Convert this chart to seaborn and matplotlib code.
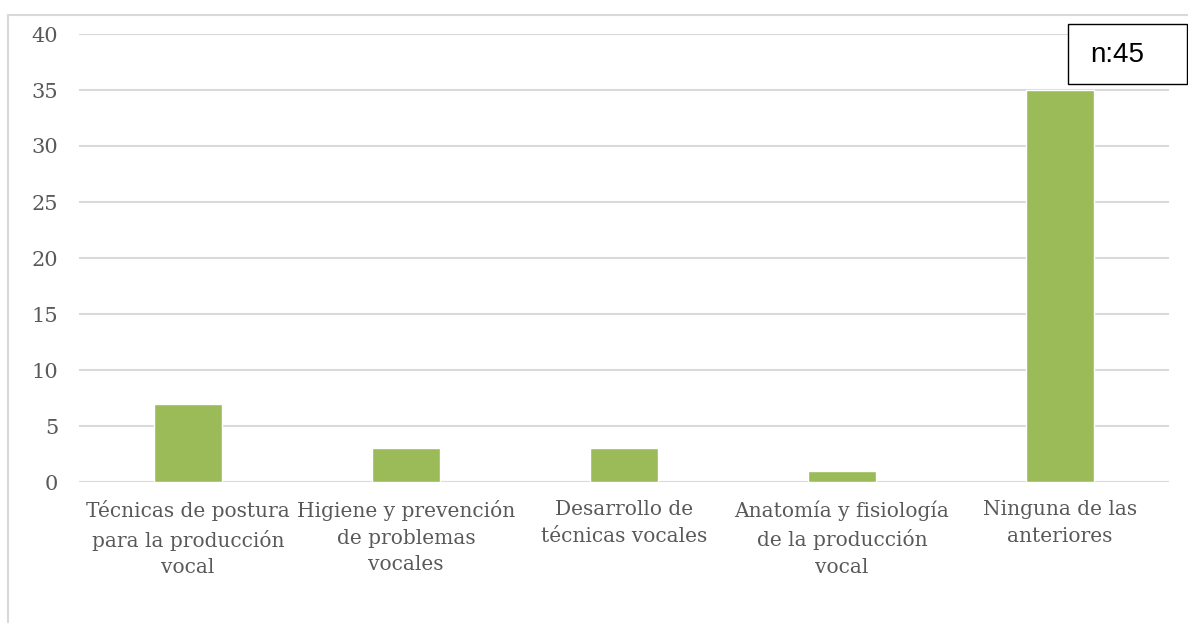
import matplotlib.pyplot as plt
import matplotlib.patches as mpatches
import seaborn as sns
import pandas as pd

categorias = [
    'Técnicas de postura\npara la producción\nvocal',
    'Higiene y prevención\nde problemas\nvocales',
    'Desarrollo de\ntécnicas vocales',
    'Anatomía y fisiología\nde la producción\nvocal',
    'Ninguna de las\nanteriores',
]
valores = [7, 3, 3, 1, 35]
yticks = [0, 5, 10, 15, 20, 25, 30, 35, 40]

df = pd.DataFrame({'cat': categorias, 'n': valores})

sns.set_style('white')
plt.rcParams['font.family'] = ['DejaVu Serif']
gris = '#595959'
verde = '#9BBB59'
linea = '#D9D9D9'

fig = plt.figure(figsize=(11.88, 6.23), dpi=100)
ax = fig.add_axes([79/1188, 1 - 482/623, 1090/1188, 448/623])

sns.barplot(data=df, x='cat', y='n', color=verde, width=0.31,
            saturation=1, ax=ax)

ax.set_ylim(0, 40)
ax.set_xlim(-0.5, 4.5)
ax.set_yticks(yticks)
ax.yaxis.grid(True, color=linea, linewidth=1.5)
ax.set_axisbelow(True)
for s in ax.spines.values():
    s.set_visible(False)
ax.tick_params(axis='both', length=0, colors=gris)
ax.tick_params(axis='y', pad=15, labelsize=15)
ax.tick_params(axis='x', pad=13, labelsize=14.5)
ax.set_xlabel('')
ax.set_ylabel('')
for lbl in ax.get_xticklabels():
    lbl.set_horizontalalignment('center')
    lbl.set_linespacing(1.5)

# marco exterior del gráfico
fig.patches.append(mpatches.Rectangle((8/1188, -0.05), 1.1, 1 - 15/623 + 0.05,
                                      transform=fig.transFigure, fill=False,
                                      edgecolor=linea, linewidth=1.5))

# recuadro n
fig.patches.append(mpatches.Rectangle((1068/1188, 1 - 84/623), 119/1188, 60/623,
                                      transform=fig.transFigure, facecolor='white',
                                      edgecolor='black', linewidth=1, zorder=5))
fig.text(1090/1188, 1 - 55/623, 'n:45', ha='left', va='center',
         fontsize=20, color='black', family='Liberation Sans', zorder=6)

fig.savefig('out.png', dpi=100)
